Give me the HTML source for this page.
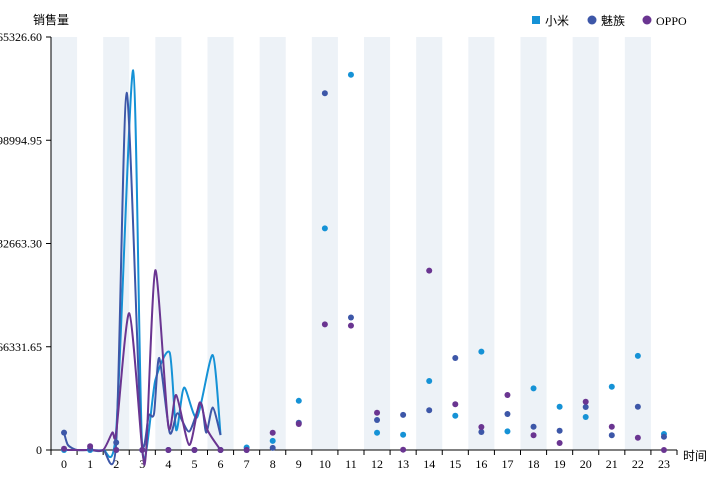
<!DOCTYPE html>
<html><head><meta charset="utf-8"><style>
html,body{margin:0;padding:0;background:#fff;}
svg{display:block;font-family:"Liberation Serif","Noto Sans CJK SC",serif;}
</style></head><body>
<svg id="chart" width="720" height="480"></svg>
<script>
const categories=["0","1","2","3","4","5","6","7","8","9","10","11","12","13","14","15","16","17","18","19","20","21","22","23"];
const yTicks=[0,66331.65,132663.30,198994.95,265326.60];
const seriesNames=["小米","魅族","OPPO"];
const seriesColors=["#1592d6","#3d57a8","#6a3591"];
const xiaomiDots=[0,0,0,0,0,0,0,1600,5900,31600,142400,241100,11100,9800,44300,22000,63200,12000,39600,27800,21200,40600,60500,10300];
const meizuDots=[11200,800,4800,0,0,0,0,0,1400,17500,229200,85100,19300,22600,25500,59100,11600,23100,14900,12400,27600,9500,27800,8500];
const oppoDots=[800,2400,0,0,0,0,0,0,11100,16700,80700,79900,23900,200,115200,29400,14800,35300,9500,4500,31000,14900,7900,0];
const xiaomiLineX=[0,0.5,1,1.5,2,2.65,3.0,3.5,4.05,4.3,4.6,5.1,5.7,6];
const xiaomiLineY=[0,0,0,0,12800,243900,0,44900,62600,12800,40100,20900,61000,9600];
const meizuLineX=[0,0.15,0.5,1,1.5,2,2.4,2.95,3.25,3.45,3.65,4.05,4.35,4.8,5.25,5.45,5.7,6];
const meizuLineY=[11200,3200,0,0,0,4800,229500,11200,22500,23300,59100,11200,23600,11900,30200,11200,27300,9600];
const oppoLineX=[0,0.5,1,1.5,1.85,2,2.5,3.0,3.15,3.5,4.0,4.3,4.8,5.2,5.5,6];
const oppoLineY=[0,0,0,0,11200,11200,87900,0,0,115500,15100,35300,3200,30500,12800,0];

const svg=document.getElementById('chart');
const NS='http://www.w3.org/2000/svg';
const X0=51,X1=677,Y0=450,Y1=37;
const YMAX=yTicks[yTicks.length-1];
const step=(X1-X0)/categories.length;
function xs(c){return X0+step*(c+0.5);}
function ys(v){return Y0-(v/YMAX)*(Y0-Y1);}
function mk(tag,attrs,parent){const e=document.createElementNS(NS,tag);for(const k in attrs)e.setAttribute(k,attrs[k]);(parent||svg).appendChild(e);return e;}

categories.forEach((c,i)=>{if(i%2===0){
 const r=mk('rect',{x:X0+step*i,y:Y1,width:step,height:Y0-Y1,fill:'#edf2f7'});
 
 
}});
const yAxis=mk('g',{});


mk('line',{x1:X0,y1:Y1,x2:X0,y2:Y0,stroke:'#000','stroke-width':1},yAxis);
yTicks.forEach(v=>{
 const y=ys(v);
 mk('line',{x1:X0-5,y1:y,x2:X0,y2:y,stroke:'#000'},yAxis);
 const t=mk('text',{x:X0-9,y:y+4,'text-anchor':'end','font-size':12,fill:'#000'},yAxis);
 t.textContent=v===0?'0':v.toFixed(2);
 
 
});
const yt=mk('text',{x:33,y:24,'font-size':12,fill:'#000'});
yt.textContent='销售量';


const xAxis=mk('g',{});


mk('line',{x1:X0,y1:Y0,x2:X1,y2:Y0,stroke:'#000'},xAxis);
for(let i=0;i<=categories.length;i++){mk('line',{x1:X0+step*i,y1:Y0,x2:X0+step*i,y2:Y0+5,stroke:'#000'},xAxis);}
categories.forEach((c,i)=>{
 const t=mk('text',{x:xs(i),y:Y0+18,'text-anchor':'middle','font-size':12,fill:'#000'},xAxis);
 t.textContent=c;
 
 
});
const xt=mk('text',{x:683,y:460,'font-size':12,fill:'#000'});
xt.textContent='时间';



function curve(px,py){
 const p=px.map((x,i)=>[xs(x),ys(py[i])]);
 let d='M'+p[0][0]+','+p[0][1];
 const k=8;
 for(let i=0;i<p.length-1;i++){
  const p0=p[i-1]||p[i],p1=p[i],p2=p[i+1],p3=p[i+2]||p2;
  const c1=[p1[0]+(p2[0]-p0[0])/k,p1[1]+(p2[1]-p0[1])/k];
  const c2=[p2[0]-(p3[0]-p1[0])/k,p2[1]-(p3[1]-p1[1])/k];
  d+=` C${c1[0]},${c1[1]} ${c2[0]},${c2[1]} ${p2[0]},${p2[1]}`;
 }
 return d;
}
const lines=[[xiaomiLineX,xiaomiLineY],[meizuLineX,meizuLineY],[oppoLineX,oppoLineY]];
const dots=[xiaomiDots,meizuDots,oppoDots];
const keys=['xiaomi','meizu','oppo'];
lines.forEach((l,s)=>{
 const p=mk('path',{d:curve(l[0],l[1]),fill:'none',stroke:seriesColors[s],'stroke-width':2});
 
 
});
dots.forEach((arr,s)=>{
 arr.forEach((v,i)=>{
  const c=mk('circle',{cx:xs(i),cy:ys(v),r:3,fill:seriesColors[s]});
  
  
 });
});
const lg=mk('g',{});


const lx=[536,592,647];
seriesNames.forEach((n,s)=>{
 const g=mk('g',{},lg);
 
 
 if(s===0)mk('rect',{x:lx[s]-4,y:16,width:8,height:8,fill:seriesColors[s]},g);
 else mk('circle',{cx:lx[s],cy:20,r:4.5,fill:seriesColors[s]},g);
 const t=mk('text',{x:lx[s]+9,y:25,'font-size':12,fill:'#000'},g);
 t.textContent=n;
});
</script>
</body></html>
